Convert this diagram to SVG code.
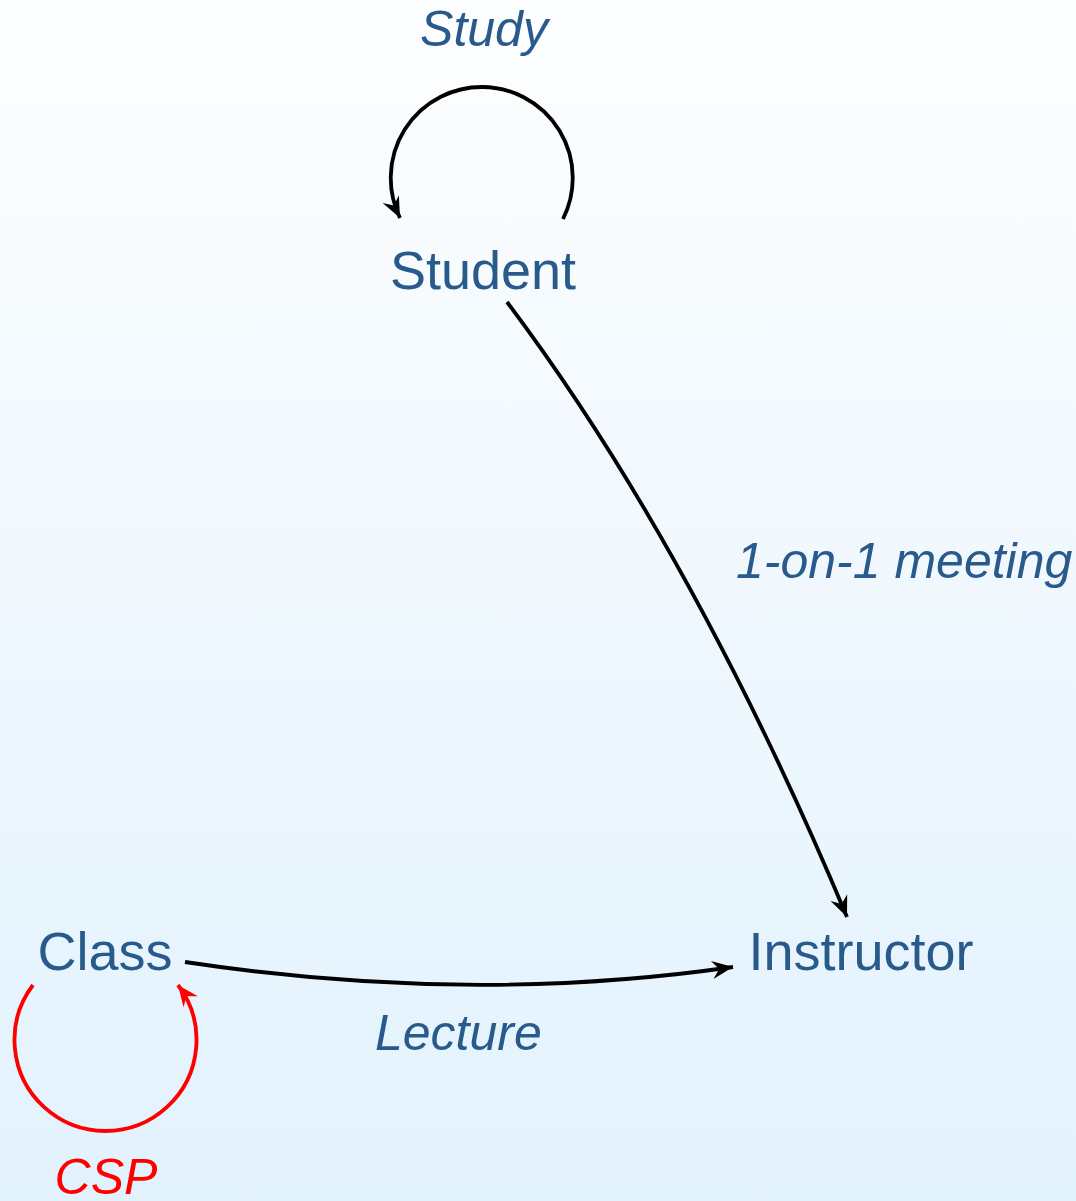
<svg xmlns="http://www.w3.org/2000/svg" width="1076" height="1201" viewBox="0 0 1076 1201">
<defs>
<linearGradient id="bg" x1="0" y1="0" x2="0" y2="1">
<stop offset="0" stop-color="#fdfeff"/>
<stop offset="1" stop-color="#e2f2fd"/>
</linearGradient>
<marker id="ab" markerWidth="26" markerHeight="24" refX="0" refY="0" viewBox="-24 -12 26 24" orient="auto" markerUnits="userSpaceOnUse">
<path d="M0,0 L-21,-9 L-14,0 L-21,9 Z" fill="#000"/>
</marker>
<marker id="ar" markerWidth="26" markerHeight="24" refX="0" refY="0" viewBox="-24 -12 26 24" orient="auto" markerUnits="userSpaceOnUse">
<path d="M0,0 L-21,-9 L-14,0 L-21,9 Z" fill="#ff0000"/>
</marker>
<style>
.node{font-family:"Liberation Sans",Arial,sans-serif;font-size:54px;fill:#285a8c}
.lbl{font-family:"Liberation Sans",Arial,sans-serif;font-size:50px;font-style:italic;fill:#285a8c}
.red{fill:#ff0000}
.edge{fill:none;stroke:#000;stroke-width:3.8}
</style>
</defs>
<rect width="1076" height="1201" fill="url(#bg)"/>
<g id="connectors">
<path class="edge" d="M563,219 A91,91 0 1 0 400,218" marker-end="url(#ab)"/>
<path class="edge" d="M507,302 Q693,550 847,917" marker-end="url(#ab)"/>
<path class="edge" d="M185,962 Q470,1005 733,967" marker-end="url(#ab)"/>
<path class="edge" style="stroke:#ff0000" d="M33,985 A91,91 0 1 0 178,985" marker-end="url(#ar)"/>
<text class="lbl" x="484" y="46" text-anchor="middle">Study</text>
<text class="lbl" x="736" y="578">1-on-1 meeting</text>
<text class="lbl" x="375" y="1050">Lecture</text>
<text class="lbl red" x="106" y="1194" text-anchor="middle">CSP</text>
</g>
<g id="student"><text class="node" x="483" y="289" text-anchor="middle">Student</text></g>
<g id="class"><text class="node" x="105" y="970" text-anchor="middle">Class</text></g>
<g id="instructor"><text class="node" x="861" y="970" text-anchor="middle">Instructor</text></g>
</svg>
